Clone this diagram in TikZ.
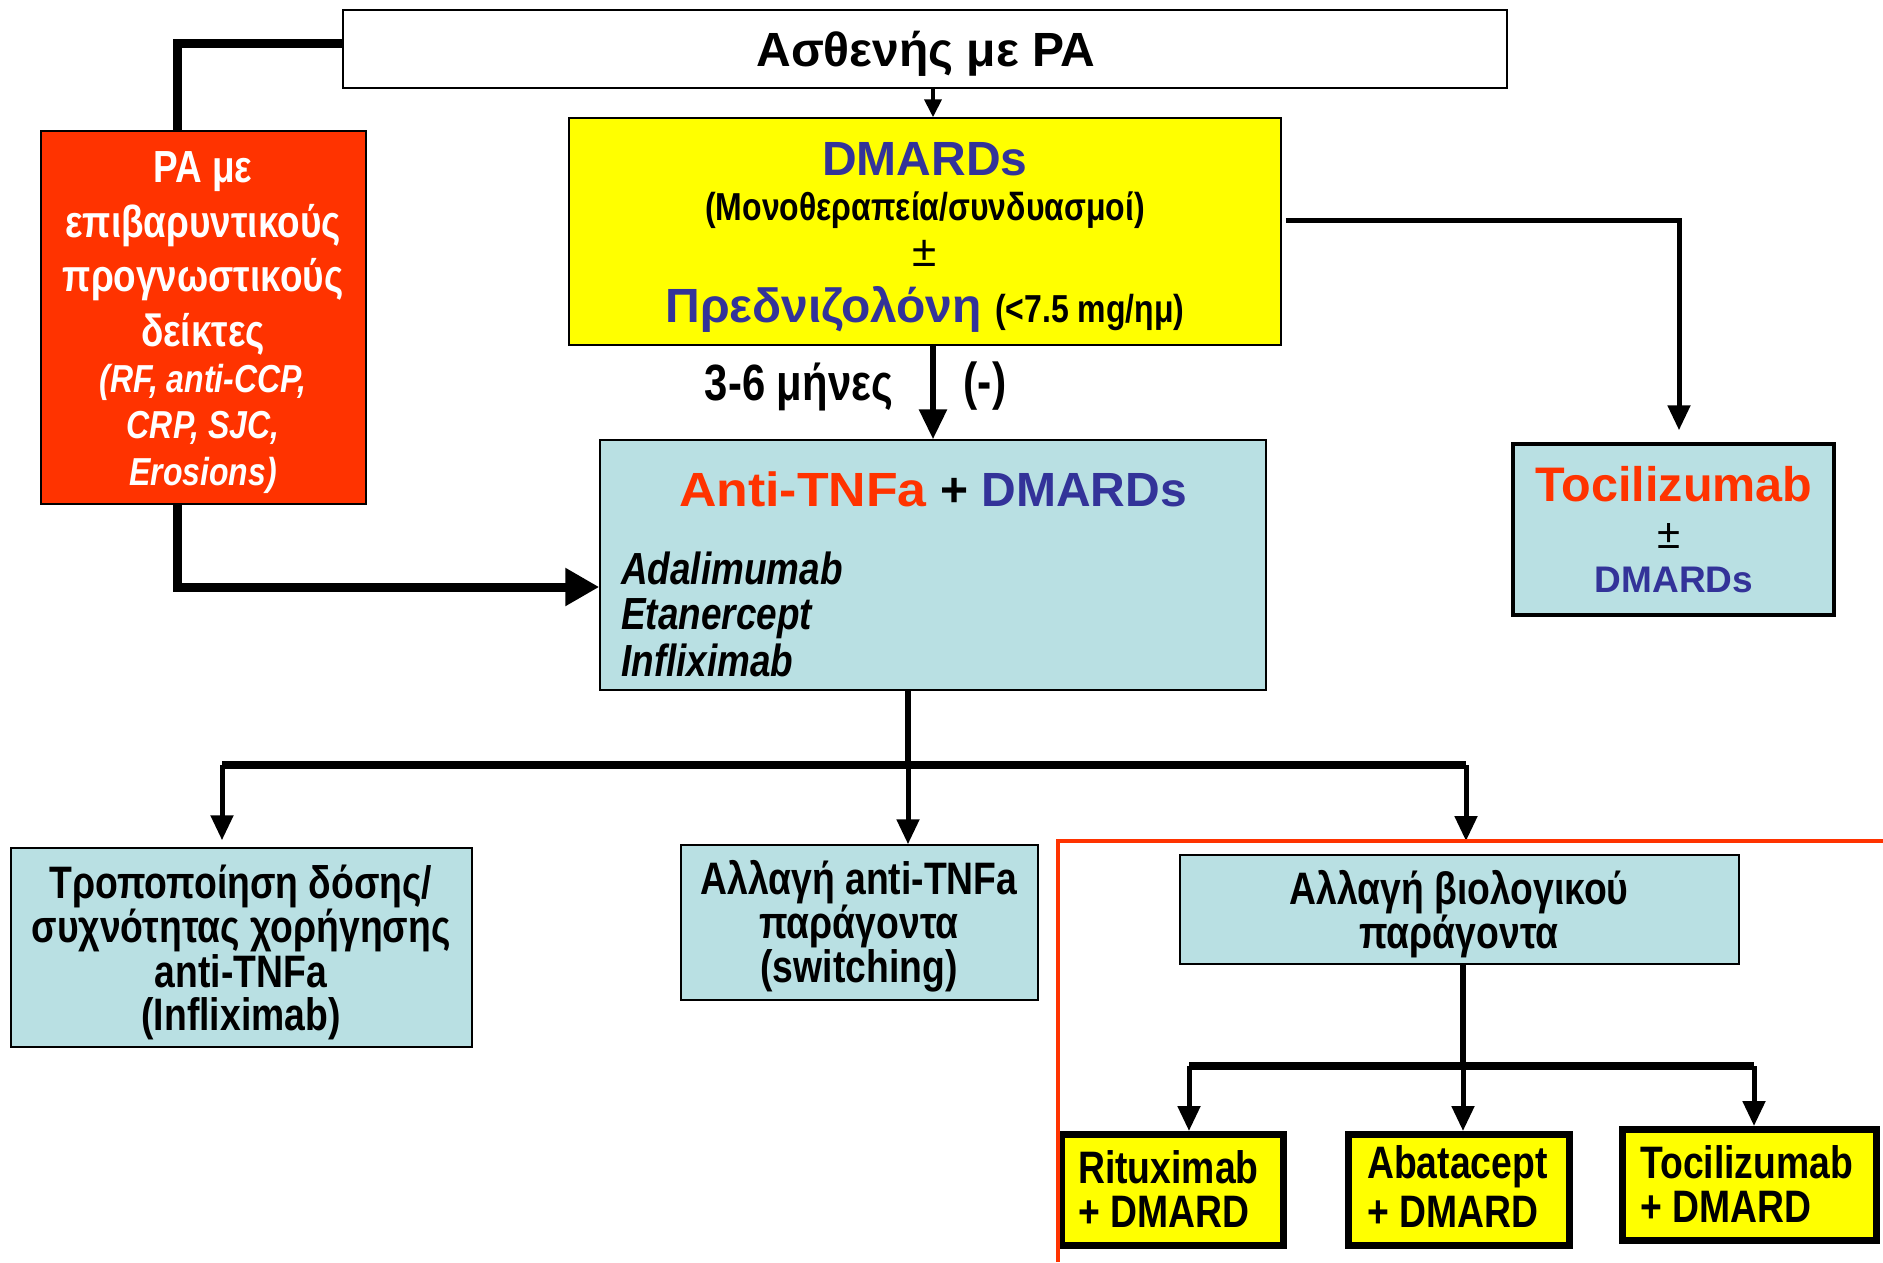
\documentclass[tikz,border=0pt]{standalone}
\usepackage{fontspec}
\setmainfont{Liberation Sans}
\newfontfamily\narrowf[FakeStretch=0.82]{Liberation Sans}
\newfontfamily\widef[FakeStretch=1.08]{Liberation Sans}
\usetikzlibrary{arrows.meta}
\definecolor{rred}{HTML}{FF3300}
\definecolor{bblue}{HTML}{333399}
\definecolor{lblue}{HTML}{B9E0E3}
\definecolor{yel}{HTML}{FFFF00}
\newcommand\fsz[1]{\fontsize{#1}{#1}\selectfont}
\begin{document}
\begin{tikzpicture}[x=1pt,y=-1pt,
  box/.style={draw, line width=1.5pt, inner sep=0pt, minimum width=#1},
  ybox/.style={draw, line width=7pt, fill=yel, inner sep=0pt, minimum width=#1, minimum height=111pt},
  txt/.style={inner sep=0pt, anchor=center},
  ltxt/.style={inner sep=0pt, anchor=west},
  conn/.style={line width=#1, line join=miter},
  arr/.style={line width=#1, -{Triangle[length=25pt,width=22pt]}},
  sarr/.style={line width=#1, -{Triangle[length=18pt,width=17pt]}}
]
\useasboundingbox (0,0) rectangle (1883,1262);
\fill[white] (0,0) rectangle (1883,1262);

% boxes
\node[box=1164pt, minimum height=78pt, fill=white] (top) at (925,49) {};
\node[box=325pt, minimum height=373pt, fill=rred] (red) at (203.5,317.5) {};
\node[box=712pt, minimum height=227pt, fill=yel] (yellow) at (925,231.5) {};
\node[box=666pt, minimum height=250pt, fill=lblue] (anti) at (933,565) {};
\node[box=321pt, minimum height=171pt, fill=lblue, line width=3.5pt] (toci) at (1673.5,529.5) {};
\node[box=461pt, minimum height=199pt, fill=lblue] (trop) at (241.5,947.5) {};
\node[box=357pt, minimum height=155pt, fill=lblue] (allag) at (859.5,922.5) {};
\node[box=559pt, minimum height=109pt, fill=lblue] (bio) at (1459.5,909.5) {};
\node[ybox=222pt] (ritux) at (1172.5,1190) {};
\node[ybox=221pt] (abat) at (1459,1190) {};
\node[ybox=254pt] (toci2) at (1749.5,1185) {};

% texts
\node[txt, font=\bfseries\fsz{48}] (t1) at (926,54) {Ασθενής με ΡΑ};

\node[txt, font=\narrowf\bfseries\fsz{45}, text=white] (r1) at (203,172) {ΡΑ με};
\node[txt, font=\narrowf\bfseries\fsz{45}, text=white] (r2) at (203,226) {επιβαρυντικούς};
\node[txt, font=\narrowf\bfseries\fsz{45}, text=white] (r3) at (203,280) {προγνωστικούς};
\node[txt, font=\narrowf\bfseries\fsz{45}, text=white] (r4) at (203,334) {δείκτες};
\node[txt, font=\narrowf\bfseries\itshape\fsz{39}, text=white] (r5) at (203,382) {(RF, anti-CCP,};
\node[txt, font=\narrowf\bfseries\itshape\fsz{39}, text=white] (r6) at (203,428) {CRP, SJC,};
\node[txt, font=\narrowf\bfseries\itshape\fsz{39}, text=white] (r7) at (203,475) {Erosions)};

\node[txt, font=\bfseries\fsz{48}, text=bblue] (y1) at (925,159) {DMARDs};
\node[txt, font=\narrowf\bfseries\fsz{39}] (y2) at (925,210) {(Μονοθεραπεία/συνδυασμοί)};
\node[txt, font=\fsz{44}] (y3) at (925,253) {±};
\node[txt] (y4) at (925,309) {\bfseries\fsz{48}\color{bblue}Πρεδνιζολόνη\ {\narrowf\fsz{39}\color{black}(<7.5 mg/ημ)}};

\node[txt, font=\narrowf\bfseries\fsz{51}] (l1) at (799,387) {3-6 μήνες};
\node[txt, font=\narrowf\bfseries\fsz{52}] (l2) at (985,386) {(-)};

\node[txt, font=\bfseries\fsz{48}] (a1) at (933,489) {{\widef\color{rred}Anti-TNFa} + {\color{bblue}DMARDs}};
\node[ltxt, font=\narrowf\bfseries\itshape\fsz{45}] (a2) at (621,568) {Adalimumab};
\node[ltxt, font=\narrowf\bfseries\itshape\fsz{45}] (a3) at (621,619) {Etanercept};
\node[ltxt, font=\narrowf\bfseries\itshape\fsz{45}] (a4) at (621,660) {Infliximab};

\node[txt, font=\bfseries\fsz{48.5}, text=rred] (c1) at (1674,484) {Tocilizumab};
\node[txt, font=\fsz{42}] (c2) at (1669,536) {±};
\node[txt, font=\bfseries\fsz{37}, text=bblue] (c3) at (1674,580) {DMARDs};

\node[txt, font=\narrowf\bfseries\fsz{45.5}] (p1) at (241,886) {Τροποποίηση δόσης/};
\node[txt, font=\narrowf\bfseries\fsz{45.5}] (p2) at (241,930) {συχνότητας χορήγησης};
\node[txt, font=\narrowf\bfseries\fsz{45.5}] (p3) at (241,971) {anti-TNFa};
\node[txt, font=\narrowf\bfseries\fsz{45.5}] (p4) at (241,1019) {(Infliximab)};

\node[txt, font=\narrowf\bfseries\fsz{45.5}] (s1) at (859,882) {Αλλαγή anti-TNFa};
\node[txt, font=\narrowf\bfseries\fsz{45.5}] (s2) at (859,926) {παράγοντα};
\node[txt, font=\narrowf\bfseries\fsz{45.5}] (s3) at (859,971) {(switching)};

\node[txt, font=\narrowf\bfseries\fsz{45.5}] (b1) at (1459,892) {Αλλαγή βιολογικού};
\node[txt, font=\narrowf\bfseries\fsz{45.5}] (b2) at (1459,936) {παράγοντα};

\node[ltxt, font=\narrowf\bfseries\fsz{45.5}] (k1) at (1078,1167) {Rituximab};
\node[ltxt, font=\narrowf\bfseries\fsz{45.5}] (k2) at (1078,1212) {+ DMARD};
\node[ltxt, font=\narrowf\bfseries\fsz{45.5}] (k3) at (1367,1167) {Abatacept};
\node[ltxt, font=\narrowf\bfseries\fsz{45.5}] (k4) at (1367,1212) {+ DMARD};
\node[ltxt, font=\narrowf\bfseries\fsz{45.5}] (k5) at (1640,1162) {Tocilizumab};
\node[ltxt, font=\narrowf\bfseries\fsz{45.5}] (k6) at (1640,1207) {+ DMARD};

% coordinates
\coordinate (lx) at (177,0);
\coordinate (ma) at (933,0);
\coordinate (j1) at (908,765);
\coordinate (hl) at (222,765);
\coordinate (hr) at (1466,765);
\coordinate (rx) at (1679,0);
\coordinate (j2) at (1463,1066);
\coordinate (gl) at (1189,1066);
\coordinate (gr) at (1754,1066);

% connectors
\draw[conn=9pt] ([yshift=6pt]top.west) -| (red.north -| lx);
\draw[conn=9pt, -{Triangle[length=34pt,width=36pt]}] (red.south -| lx) |- ([yshift=-22pt]anti.west);
\draw[sarr=4pt] (top.south -| ma) -- (yellow.north -| ma);
\draw[conn=6pt, -{Triangle[length=30pt,width=27pt]}] (yellow.south -| ma) -- (anti.north -| ma);
\draw[conn=5pt, -{Triangle[length=25pt,width=22pt]}, shorten >=12pt] ([xshift=4pt,yshift=11.5pt]yellow.east) -| (toci.north -| rx);
\draw[conn=6pt] (anti.south -| j1) -- (j1);
\draw[conn=8pt] (hl) -- (hr);
\draw[arr=5pt, shorten >=7pt] (hl) -- (trop.north -| hl);
\draw[arr=5pt] (j1) -- (allag.north -| j1);
\draw[arr=5pt] (hr) -- (1466,841);
\draw[conn=6pt] (bio.south -| j2) -- (j2);
\draw[conn=8pt] (gl) -- (gr);
\draw[arr=5pt] (gl) -- (ritux.north -| gl);
\draw[arr=5pt] (j2) -- (abat.north -| j2);
\draw[arr=5pt] (gr) -- (toci2.north -| gr);

% red outline
\draw[rred, line width=3.5pt] (1058,1262) -- (1058,841) -- (1883,841);
\end{tikzpicture}
\end{document}
